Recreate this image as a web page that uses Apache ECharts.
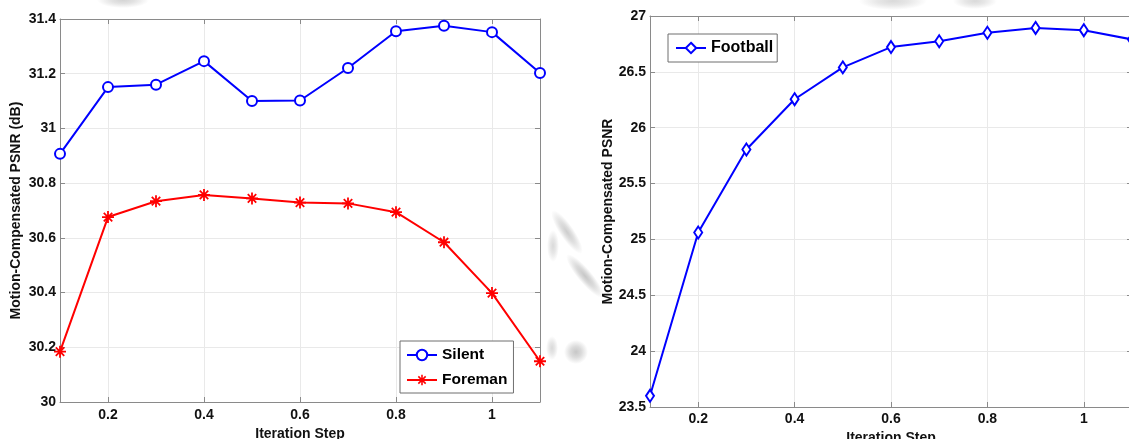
<!DOCTYPE html>
<html>
<head>
<meta charset="utf-8">
<title>Motion-Compensated PSNR vs Iteration Step</title>
<script src="https://cdn.jsdelivr.net/npm/echarts@6/dist/echarts.min.js"></script>
<style>
  html, body { margin: 0; padding: 0; background: #ffffff; }
  #chart { width: 1129px; height: 439px; }
</style>
</head>
<body>
<div id="chart"></div>
<script>
// Iteration step values shared by both panels
const iterationSteps = [0.1, 0.2, 0.3, 0.4, 0.5, 0.6, 0.7, 0.8, 0.9, 1.0, 1.1];

// Left panel: PSNR (dB) for the Silent and Foreman sequences
const silentPsnr  = [30.907, 31.151, 31.160, 31.246, 31.100, 31.102, 31.221, 31.355, 31.375, 31.352, 31.203];
const foremanPsnr = [30.184, 30.676, 30.734, 30.757, 30.744, 30.729, 30.726, 30.694, 30.584, 30.398, 30.149];

// Right panel: PSNR for the Football sequence
const footballPsnr = [23.600, 25.062, 25.805, 26.255, 26.540, 26.722, 26.774, 26.850, 26.893, 26.873, 26.790];

// Axis ranges and tick positions
const xRange = [0.1, 1.1];
const xTickValues = [0.2, 0.4, 0.6, 0.8, 1.0];
const leftYRange = [30, 31.4];
const leftYStep = 0.2;
const rightYRange = [23.5, 27];
const rightYStep = 0.5;

const seriesNames = ['Silent', 'Foreman', 'Football'];
const xTitle = 'Iteration Step';
const leftYTitle = 'Motion-Compensated PSNR (dB)';
const rightYTitle = 'Motion-Compensated PSNR';

const FONT = '"Liberation Sans", Arial, Helvetica, sans-serif';
const AXIS_GRAY = '#8a8a8a';
const GRID_GRAY = '#e9e9e9';

// Eight-armed asterisk marker built from filled bars
const asteriskPath = 'path://M8.5,0L11.5,0L11.5,20L8.5,20Z M0,8.5L20,8.5L20,11.5L0,11.5Z ' +
  'M4,1.9L18.1,16L16,18.1L1.9,4Z M18.1,4L4,18.1L1.9,16L16,1.9Z';

const pairs = (ys) => iterationSteps.map((x, i) => [x, ys[i]]);

function xAxisPair(gridIndex, nameGap, labelMargin) {
  return [
    {
      type: 'value', gridIndex, position: 'bottom',
      min: xRange[0], max: xRange[1],
      name: xTitle, nameLocation: 'middle', nameGap,
      nameTextStyle: { fontFamily: FONT, fontWeight: 'bold', fontSize: 14, color: '#111' },
      axisLine: { show: true, onZero: false, lineStyle: { color: AXIS_GRAY, width: 1 } },
      axisTick: { show: true, inside: true, length: 5, customValues: xTickValues, lineStyle: { color: AXIS_GRAY } },
      axisLabel: { customValues: xTickValues, margin: labelMargin, fontFamily: FONT, fontWeight: 'bold', fontSize: 14, color: '#111' },
      splitLine: { show: true, lineStyle: { color: GRID_GRAY, width: 1 } }
    },
    {
      type: 'value', gridIndex, position: 'top',
      min: xRange[0], max: xRange[1],
      axisLine: { show: true, onZero: false, lineStyle: { color: AXIS_GRAY, width: 1 } },
      axisTick: { show: true, inside: true, length: 5, customValues: xTickValues, lineStyle: { color: AXIS_GRAY } },
      axisLabel: { show: false },
      splitLine: { show: false }
    }
  ];
}

function yAxisPair(gridIndex, range, step, title, nameGap) {
  return [
    {
      type: 'value', gridIndex, position: 'left',
      min: range[0], max: range[1], interval: step,
      name: title, nameLocation: 'middle', nameGap, nameRotate: 90,
      nameTextStyle: { fontFamily: FONT, fontWeight: 'bold', fontSize: 14, color: '#111' },
      axisLine: { show: true, onZero: false, lineStyle: { color: AXIS_GRAY, width: 1 } },
      axisTick: { show: true, inside: true, length: 5, lineStyle: { color: AXIS_GRAY } },
      axisLabel: { margin: 4, fontFamily: FONT, fontWeight: 'bold', fontSize: 14, color: '#111' },
      splitLine: { show: true, lineStyle: { color: GRID_GRAY, width: 1 } }
    },
    {
      type: 'value', gridIndex, position: 'right',
      min: range[0], max: range[1], interval: step,
      axisLine: { show: true, onZero: false, lineStyle: { color: AXIS_GRAY, width: 1 } },
      axisTick: { show: true, inside: true, length: 5, lineStyle: { color: AXIS_GRAY } },
      axisLabel: { show: false },
      splitLine: { show: false }
    }
  ];
}

const legendText = { fontFamily: FONT, fontWeight: 'bold', fontSize: 15.5, color: '#000' };

// Soft grey smudges on the page background: a faded disc stretched and turned
const smudge = (cx, cy, rx, ry, rot, alpha) => ({
  type: 'circle', silent: true, z: -10,
  shape: { cx: 0, cy: 0, r: 10 },
  x: cx, y: cy, scaleX: rx / 10, scaleY: ry / 10, rotation: rot,
  style: {
    fill: new echarts.graphic.RadialGradient(0.5, 0.5, 0.5, [
      { offset: 0, color: 'rgba(130,130,130,' + alpha + ')' },
      { offset: 0.45, color: 'rgba(130,130,130,' + (alpha * 0.65) + ')' },
      { offset: 1, color: 'rgba(130,130,130,0)' }
    ])
  }
});

const option = {
  backgroundColor: '#ffffff',
  animation: false,
  graphic: [
    smudge(123, 0, 26, 8, 0, 0.35),
    smudge(893, 1, 34, 9, 0, 0.3),
    smudge(975, 1, 22, 8, 0, 0.3),
    smudge(567, 232, 7, 26, 0.6, 0.4),
    smudge(585, 276, 7, 28, 0.7, 0.45),
    smudge(576, 352, 12, 12, 0, 0.45),
    smudge(553, 246, 6, 16, 0, 0.3),
    smudge(552, 348, 6, 12, 0, 0.3)
  ],
  // Fixed plot boxes; the right panel runs a little past the page edge
  grid: [
    { left: 60, top: 19, width: 480, height: 383, containLabel: false, outerBoundsMode: 'none' },
    { left: 650, top: 16, width: 482, height: 391, containLabel: false, outerBoundsMode: 'none' }
  ],
  xAxis: [...xAxisPair(0, 23, 6), ...xAxisPair(1, 22, 5)],
  yAxis: [
    ...yAxisPair(0, leftYRange, leftYStep, leftYTitle, 37),
    ...yAxisPair(1, rightYRange, rightYStep, rightYTitle, 35)
  ],
  legend: [
    {
      data: [seriesNames[0], seriesNames[1]],
      orient: 'vertical', left: 400, top: 341,
      itemWidth: 30, itemHeight: 13, itemGap: 9,
      padding: [6, 6, 5, 6],
      backgroundColor: '#ffffff', borderColor: '#6f6f6f', borderWidth: 1,
      textStyle: legendText
    },
    {
      data: [seriesNames[2]],
      orient: 'vertical', left: 668, top: 34,
      itemWidth: 30, itemHeight: 13,
      padding: [6, 4, 6, 7],
      backgroundColor: '#ffffff', borderColor: '#6f6f6f', borderWidth: 1,
      textStyle: Object.assign({}, legendText, { fontSize: 16 })
    }
  ],
  series: [
    {
      name: seriesNames[0], type: 'line', xAxisIndex: 0, yAxisIndex: 0,
      data: pairs(silentPsnr),
      symbol: 'emptyCircle', symbolSize: 10,
      lineStyle: { color: '#0000ff', width: 2 },
      itemStyle: { color: '#0000ff', borderColor: '#0000ff', borderWidth: 2 }
    },
    {
      name: seriesNames[1], type: 'line', xAxisIndex: 0, yAxisIndex: 0,
      data: pairs(foremanPsnr),
      symbol: asteriskPath, symbolSize: 12,
      lineStyle: { color: '#ff0000', width: 2 },
      itemStyle: { color: '#ff0000' }
    },
    {
      name: seriesNames[2], type: 'line', xAxisIndex: 2, yAxisIndex: 2,
      data: pairs(footballPsnr),
      symbol: 'emptyDiamond', symbolSize: [8, 12],
      lineStyle: { color: '#0000ff', width: 2 },
      itemStyle: { color: '#0000ff', borderColor: '#0000ff', borderWidth: 2 }
    }
  ]
};

const chart = echarts.init(document.getElementById('chart'), null, { renderer: 'canvas' });
chart.setOption(option);
</script>
</body>
</html>
